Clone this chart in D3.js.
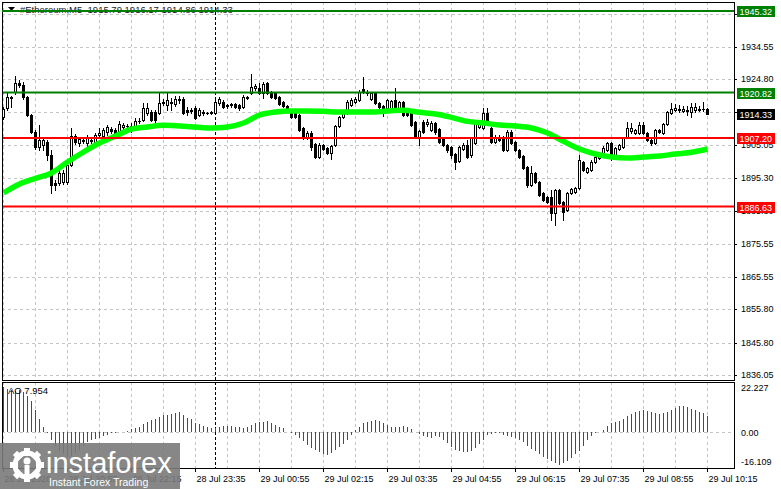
<!DOCTYPE html>
<html>
<head>
<meta charset="utf-8">
<script src="https://cdn.jsdelivr.net/npm/d3@7"></script>
<style>
  html, body { margin: 0; padding: 0; background: #fff; }
  svg { display: block; font-family: "Liberation Sans", Arial, sans-serif; }
</style>
</head>
<body>
<svg id="chart" width="781" height="489"></svg>
<script>
'use strict';

// #Ethereum M5 candles, 28 Jul 19:35 -> 29 Jul 10:15 (177 bars)
var opens = [
  1913.5, 1916.2, 1919.2, 1921.0, 1923.7, 1923.1, 1919.5, 1914.1, 1909.0, 1904.5,
  1905.1, 1906.0, 1902.1, 1893.7, 1893.7, 1894.0, 1894.0, 1899.1, 1907.8, 1905.7,
  1906.6, 1905.7, 1906.3, 1906.0, 1908.1, 1907.8, 1909.0, 1909.9, 1909.6, 1908.4,
  1910.5, 1910.8, 1910.8, 1910.8, 1912.3, 1912.6, 1914.7, 1915.0, 1915.0, 1914.7,
  1917.7, 1917.1, 1918.0, 1917.4, 1918.6, 1918.9, 1915.6, 1915.6, 1916.2, 1914.1,
  1915.0, 1914.7, 1915.0, 1914.7, 1917.7, 1918.0, 1917.1, 1917.4, 1917.4, 1917.1,
  1916.5, 1919.2, 1920.7, 1922.2, 1922.2, 1920.7, 1923.7, 1920.7, 1920.7, 1919.5,
  1918.0, 1916.8, 1915.0, 1914.7, 1914.1, 1910.2, 1907.5, 1908.7, 1905.4, 1901.5,
  1905.1, 1904.2, 1902.7, 1905.1, 1910.8, 1913.5, 1914.7, 1917.1, 1918.0, 1918.6,
  1921.9, 1921.0, 1918.9, 1920.7, 1917.7, 1916.8, 1916.2, 1916.2, 1918.6, 1916.2,
  1918.0, 1915.6, 1914.7, 1912.0, 1907.5, 1912.0, 1911.4, 1909.6, 1911.7, 1909.9,
  1906.9, 1905.1, 1904.5, 1902.4, 1900.3, 1903.9, 1905.1, 1902.1, 1905.7, 1910.5,
  1910.2, 1914.7, 1910.2, 1906.0, 1907.5, 1907.5, 1903.6, 1909.0, 1906.0, 1903.6,
  1901.8, 1898.5, 1893.1, 1896.7, 1894.0, 1890.7, 1889.5, 1889.5, 1884.7, 1891.6,
  1888.0, 1885.6, 1890.7, 1891.0, 1892.2, 1900.0, 1897.0, 1897.6, 1900.0, 1901.2,
  1902.7, 1903.6, 1905.7, 1902.1, 1903.9, 1904.5, 1907.5, 1909.3, 1908.7, 1908.7,
  1911.1, 1908.7, 1906.6, 1905.7, 1909.6, 1908.7, 1911.4, 1914.7, 1915.6, 1915.6,
  1915.3, 1915.6, 1915.0, 1915.6, 1915.9, 1915.9, 1915.79
];
var highs = [
  1916.5, 1920.7, 1919.8, 1925.8, 1924.6, 1924.0, 1919.8, 1914.4, 1909.6, 1911.1,
  1907.5, 1906.6, 1903.6, 1894.6, 1897.6, 1897.6, 1900.6, 1910.2, 1908.4, 1907.5,
  1907.2, 1908.1, 1907.2, 1908.7, 1910.2, 1910.2, 1911.1, 1910.5, 1910.2, 1912.3,
  1911.7, 1911.4, 1911.7, 1913.2, 1913.2, 1917.7, 1917.7, 1915.6, 1915.6, 1920.7,
  1918.9, 1920.7, 1919.2, 1919.8, 1919.8, 1919.5, 1916.5, 1916.2, 1916.8, 1916.2,
  1915.6, 1915.0, 1915.3, 1918.6, 1919.5, 1918.6, 1917.4, 1917.7, 1917.7, 1917.4,
  1920.1, 1919.8, 1926.4, 1923.4, 1923.7, 1924.0, 1924.0, 1921.3, 1921.0, 1919.8,
  1918.3, 1917.1, 1915.3, 1915.0, 1914.4, 1910.5, 1909.3, 1909.3, 1905.7, 1905.7,
  1905.4, 1904.5, 1905.1, 1911.1, 1913.8, 1915.0, 1918.6, 1919.2, 1919.5, 1921.6,
  1925.5, 1921.6, 1921.0, 1921.0, 1918.0, 1917.1, 1918.9, 1918.6, 1922.2, 1918.3,
  1918.3, 1915.9, 1915.0, 1912.3, 1909.6, 1912.6, 1912.9, 1912.3, 1912.0, 1910.2,
  1907.2, 1905.4, 1904.8, 1902.7, 1904.8, 1905.7, 1906.6, 1907.5, 1912.6, 1912.3,
  1916.2, 1916.2, 1910.5, 1908.1, 1908.1, 1907.8, 1909.6, 1909.6, 1906.3, 1903.9,
  1902.1, 1898.8, 1898.8, 1897.0, 1894.3, 1891.0, 1889.8, 1891.6, 1891.9, 1891.9,
  1888.3, 1891.0, 1892.2, 1892.5, 1902.1, 1900.3, 1898.5, 1900.6, 1902.1, 1902.7,
  1904.8, 1906.0, 1906.0, 1904.5, 1905.4, 1907.5, 1912.0, 1911.7, 1909.9, 1912.0,
  1912.0, 1909.0, 1906.9, 1909.9, 1909.9, 1911.7, 1915.3, 1917.7, 1917.4, 1917.1,
  1916.8, 1916.8, 1917.7, 1917.7, 1916.8, 1918.0, 1916.17
];
var lows = [
  1912.9, 1915.6, 1916.5, 1920.4, 1922.5, 1918.9, 1913.8, 1908.7, 1903.9, 1903.6,
  1903.6, 1900.6, 1890.7, 1891.6, 1893.1, 1893.4, 1893.4, 1898.8, 1905.4, 1904.8,
  1905.7, 1904.8, 1905.7, 1905.7, 1907.5, 1907.5, 1908.1, 1908.7, 1907.8, 1908.1,
  1909.6, 1910.2, 1909.0, 1910.5, 1911.7, 1912.3, 1914.1, 1912.3, 1912.0, 1914.4,
  1917.1, 1915.6, 1915.6, 1916.8, 1917.7, 1914.4, 1914.1, 1914.7, 1912.9, 1913.8,
  1914.1, 1914.4, 1914.4, 1914.4, 1917.1, 1916.2, 1916.2, 1916.5, 1916.2, 1915.6,
  1916.2, 1918.9, 1920.4, 1921.6, 1920.4, 1919.2, 1920.4, 1919.2, 1918.9, 1917.1,
  1916.5, 1915.9, 1913.2, 1913.2, 1909.3, 1906.9, 1906.9, 1903.6, 1901.2, 1901.2,
  1903.6, 1902.4, 1900.9, 1904.8, 1910.5, 1913.2, 1914.4, 1916.8, 1917.7, 1918.3,
  1920.7, 1920.1, 1918.6, 1917.4, 1916.2, 1913.8, 1915.9, 1915.9, 1916.2, 1915.9,
  1913.8, 1913.8, 1910.8, 1907.2, 1905.1, 1908.7, 1910.8, 1909.3, 1908.4, 1905.7,
  1904.8, 1903.0, 1901.2, 1897.9, 1900.0, 1903.6, 1901.2, 1901.5, 1905.4, 1910.2,
  1909.9, 1911.4, 1905.7, 1905.7, 1906.3, 1903.3, 1903.3, 1905.4, 1903.3, 1901.2,
  1897.9, 1892.5, 1892.8, 1893.7, 1889.8, 1888.3, 1887.7, 1882.6, 1881.1, 1887.4,
  1882.6, 1885.3, 1890.4, 1890.7, 1891.9, 1897.3, 1896.7, 1897.3, 1899.7, 1900.9,
  1902.4, 1903.3, 1900.6, 1901.8, 1903.6, 1904.2, 1907.2, 1908.7, 1908.4, 1908.4,
  1908.4, 1906.3, 1905.1, 1905.4, 1908.7, 1908.4, 1911.1, 1914.4, 1915.3, 1915.0,
  1915.0, 1914.1, 1913.5, 1915.0, 1915.3, 1915.3, 1914.86
];
var closes = [
  1915.9, 1919.5, 1919.5, 1923.7, 1923.1, 1919.5, 1914.1, 1909.0, 1904.5, 1906.6,
  1906.6, 1902.1, 1893.1, 1893.1, 1896.7, 1896.7, 1899.1, 1907.8, 1906.0, 1906.9,
  1906.3, 1907.5, 1906.6, 1908.1, 1908.7, 1909.6, 1910.5, 1909.3, 1908.1, 1911.4,
  1911.1, 1910.9, 1910.2, 1912.3, 1912.4, 1916.2, 1916.2, 1912.6, 1912.6, 1917.7,
  1918.0, 1918.6, 1917.7, 1918.9, 1918.9, 1914.7, 1915.0, 1915.3, 1913.2, 1915.6,
  1914.7, 1914.6, 1914.7, 1918.0, 1918.9, 1916.5, 1916.8, 1917.1, 1916.5, 1916.2,
  1919.5, 1919.5, 1922.5, 1922.8, 1920.7, 1923.4, 1920.7, 1919.5, 1919.2, 1917.4,
  1916.8, 1916.2, 1913.5, 1913.5, 1909.6, 1907.2, 1908.7, 1904.5, 1901.5, 1905.1,
  1903.9, 1902.7, 1904.8, 1910.8, 1913.5, 1914.7, 1918.0, 1918.6, 1918.9, 1921.0,
  1921.0, 1920.7, 1920.7, 1917.7, 1916.5, 1916.2, 1918.6, 1918.3, 1916.5, 1918.0,
  1914.1, 1914.1, 1911.1, 1907.5, 1909.3, 1909.0, 1912.0, 1911.7, 1909.0, 1906.0,
  1905.1, 1903.6, 1902.1, 1900.0, 1904.5, 1905.1, 1901.5, 1907.2, 1912.0, 1911.7,
  1914.7, 1911.7, 1906.0, 1907.5, 1906.6, 1903.6, 1909.0, 1905.7, 1903.6, 1901.5,
  1898.2, 1893.1, 1896.7, 1894.0, 1890.1, 1888.6, 1888.0, 1884.7, 1891.6, 1887.7,
  1885.0, 1890.7, 1891.9, 1892.2, 1900.6, 1897.6, 1898.2, 1900.0, 1901.5, 1902.1,
  1904.2, 1905.7, 1901.5, 1904.2, 1905.1, 1907.2, 1910.2, 1910.2, 1909.6, 1911.1,
  1908.7, 1906.6, 1905.7, 1909.6, 1909.0, 1911.4, 1915.0, 1915.9, 1916.2, 1915.9,
  1915.9, 1915.3, 1916.5, 1916.5, 1915.6, 1915.8, 1914.33
];

// moving average, every 4th bar
var maBars = [0, 4, 8, 12, 16, 20, 24, 28, 32, 36, 40, 44, 48, 52, 56, 60, 64, 68, 72, 76, 80, 84, 88,
  92, 96, 100, 104, 108, 112, 116, 120, 124, 128, 132, 136, 140, 144, 148, 152, 156, 160, 164, 168, 172, 176];
var maValues = [
  1890.7, 1893.4, 1895.1, 1896.7, 1900.0, 1903.0, 1905.7, 1907.8, 1909.9, 1910.5,
  1911.0, 1910.8, 1910.5, 1910.2, 1910.5, 1911.7, 1914.1, 1915.0, 1915.3, 1915.3,
  1915.2, 1915.0, 1915.0, 1915.0, 1915.3, 1915.5, 1914.9, 1914.4, 1913.4, 1912.2,
  1911.7, 1911.1, 1910.8, 1910.2, 1908.7, 1906.2, 1903.9, 1902.4, 1901.5, 1901.2,
  1901.5, 1901.8, 1902.4, 1902.9, 1903.9
];

// Awesome Oscillator
var aoValues = [
  22.227, 21.2, 20.7, 20.4, 20.8, 19.6, 18.0, 15.2, 10.7, 6.3,
  2.7, -0.5, -4.0, -6.6, -9.3, -10.9, -12.0, -11.7, -10.1, -8.5,
  -6.6, -5.0, -4.0, -3.4, -2.9, -2.1, -1.3, -0.5, -0.2, 0.05,
  0.2, 0.6, 1.4, 1.9, 2.7, 3.8, 5.1, 5.9, 6.3, 7.5,
  8.3, 8.7, 9.1, 9.5, 9.9, 8.3, 7.2, 6.3, 4.6, 4.0,
  3.0, 2.4, 2.2, 1.9, 2.7, 3.0, 3.1, 3.2, 2.7, 2.4,
  2.2, 2.7, 3.5, 4.3, 5.0, 5.1, 5.4, 4.3, 3.5, 2.4,
  1.9, 0.3, -0.2, -1.3, -2.9, -4.5, -6.1, -7.7, -8.8, -9.8,
  -10.9, -11.4, -10.1, -8.5, -7.2, -5.6, -3.7, -1.3, 1.1, 2.4,
  4.3, 5.1, 5.6, 5.9, 5.6, 4.3, 3.5, 2.7, 2.6, 2.4,
  3.0, 2.4, 1.4, 0.3, -0.8, -2.1, -2.4, -2.6, -2.1, -2.4,
  -3.7, -5.3, -7.2, -8.5, -9.3, -9.8, -9.9, -9.3, -7.7, -5.6,
  -3.7, -1.3, -0.8, -0.5, -0.2, -1.3, -2.1, -2.2, -2.9, -3.7,
  -5.0, -6.6, -8.2, -9.3, -10.9, -12.0, -13.0, -14.1, -14.9, -16.109,
  -14.9, -14.1, -12.5, -10.9, -9.3, -6.6, -4.0, -2.1, -0.5, 0.2,
  1.1, 3.0, 4.3, 5.1, 5.6, 6.7, 7.9, 9.1, 9.9, 10.4,
  11.1, 10.4, 9.9, 9.5, 9.1, 9.5, 9.9, 10.7, 12.0, 12.7,
  12.8, 12.3, 11.5, 10.7, 9.9, 9.5, 7.954
];

var priceTicks = [1944.30, 1934.55, 1924.80, 1915.05, 1905.05, 1895.30, 1885.30, 1875.55, 1865.55, 1855.80, 1845.80, 1836.05];
var aoTicks = [22.227, 0, -16.109];
var aoTickLabels = ['22.227', '0.00', '-16.109'];

var levelPrices = [1945.32, 1920.82, 1907.20, 1886.63];
var lastPrice = 1914.33;

var timeBars = [0, 16, 32, 48, 64, 80, 96, 112, 128, 144, 160, 176];
var timeLabels = ['28 Jul 2026', '28 Jul 20:55', '28 Jul 22:15', '28 Jul 23:35', '29 Jul 00:55', '29 Jul 02:15',
  '29 Jul 03:35', '29 Jul 04:55', '29 Jul 06:15', '29 Jul 07:35', '29 Jul 08:55', '29 Jul 10:15'];
var daySepBar = 53;

var header = '#Ethereum,M5  1915.79 1916.17 1914.86 1914.33';

// ---- layout ----
var plotL = 2, plotR = 734;
var mainT = 2, mainB = 380;
var aoT = 382, aoB = 468;
var levelColors = { '1945.32': '#008000', '1920.82': '#008000', '1907.20': '#ff0000', '1886.63': '#ff0000' };

var svg = d3.select('#chart');
var nBars = closes.length;

var x = d3.scaleLinear().domain([0, nBars - 1]).range([3.5, 707.5]);
var y = d3.scaleLinear().domain([1834.9, 1947.1]).range([379, 5]);
var yAo = d3.scaleLinear().domain([-16.109, 22.227]).range([465, 387]);

function px(v) { return Math.round(v) + 0.5; }

// grid
var grid = svg.append('g').attr('stroke', '#c4c4c4').attr('stroke-dasharray', '3,3');
grid.selectAll('line.h').data(priceTicks).enter().append('line')
  .attr('x1', plotL).attr('x2', plotR)
  .attr('y1', function(d){ return px(y(d)); }).attr('y2', function(d){ return px(y(d)); });

var vBars = d3.range(0, nBars, 8);
grid.selectAll('line.v').data(vBars).enter().append('line')
  .attr('x1', function(d){ return x(d); }).attr('x2', function(d){ return x(d); })
  .attr('y1', mainT).attr('y2', mainB);
grid.selectAll('line.va').data(vBars).enter().append('line')
  .attr('x1', function(d){ return x(d); }).attr('x2', function(d){ return x(d); })
  .attr('y1', aoT).attr('y2', aoB);
grid.append('line').attr('x1', plotL).attr('x2', plotR)
  .attr('y1', px(yAo(0))).attr('y2', px(yAo(0)));

// day separator
svg.append('line')
  .attr('x1', x(daySepBar)).attr('x2', x(daySepBar))
  .attr('y1', mainT).attr('y2', aoB)
  .attr('stroke', '#000').attr('stroke-dasharray', '3,2');

// candles
var idx = d3.range(nBars);
var candles = svg.append('g');
candles.selectAll('line').data(idx).enter().append('line')
  .attr('x1', function(i){ return x(i); }).attr('x2', function(i){ return x(i); })
  .attr('y1', function(i){ return Math.round(y(highs[i])); })
  .attr('y2', function(i){ return Math.round(y(lows[i])) + 1; })
  .attr('stroke', '#000');
candles.selectAll('rect').data(idx).enter().append('rect')
  .attr('x', function(i){ return x(i) - 1; })
  .attr('width', 2)
  .attr('y', function(i){ return px(y(Math.max(opens[i], closes[i]))); })
  .attr('height', function(i){
    return Math.max(0.01, Math.round(Math.abs(y(opens[i]) - y(closes[i]))));
  })
  .attr('fill', function(i){ return closes[i] >= opens[i] ? '#fff' : '#000'; })
  .attr('stroke', '#000');

// moving average
var maLine = d3.line()
  .x(function(d){ return x(d[0]); })
  .y(function(d){ return y(d[1]); })
  .curve(d3.curveMonotoneX);
svg.append('path')
  .datum(d3.zip(maBars, maValues))
  .attr('d', maLine)
  .attr('fill', 'none')
  .attr('stroke', '#00ff00')
  .attr('stroke-width', 5.5);

// horizontal levels
svg.selectAll('line.level').data(levelPrices).enter().append('line')
  .attr('x1', plotL).attr('x2', plotR)
  .attr('y1', function(d){ return y(d); }).attr('y2', function(d){ return y(d); })
  .attr('stroke', function(d){ return levelColors[d.toFixed(2)]; })
  .attr('stroke-width', 2);

// AO histogram
svg.append('g').selectAll('line').data(idx).enter().append('line')
  .attr('x1', function(i){ return x(i); }).attr('x2', function(i){ return x(i); })
  .attr('y1', Math.round(yAo(0)))
  .attr('y2', function(i){ return Math.round(yAo(aoValues[i])); })
  .attr('stroke', function(i){ return (i > 0 && aoValues[i] > aoValues[i - 1]) ? '#008000' : '#ff0000'; });

// frames
svg.append('rect').attr('x', plotL + 0.5).attr('y', mainT + 0.5)
  .attr('width', plotR - plotL).attr('height', mainB - mainT)
  .attr('fill', 'none').attr('stroke', '#000');
svg.append('rect').attr('x', plotL + 0.5).attr('y', aoT + 0.5)
  .attr('width', plotR - plotL).attr('height', aoB - aoT)
  .attr('fill', 'none').attr('stroke', '#000');

// header
svg.append('path').attr('d', 'M8,7 L15,7 L11.5,11 Z').attr('fill', '#000');
svg.append('text').attr('x', 20).attr('y', 13)
  .attr('font-size', 9.5).attr('fill', '#1a1a2a')
  .style('white-space', 'pre')
  .text(header);
// the 1945.32 line runs over the header
svg.append('line').attr('x1', plotL).attr('x2', plotR)
  .attr('y1', y(levelPrices[0])).attr('y2', y(levelPrices[0]))
  .attr('stroke', '#008000').attr('stroke-width', 2);

// right price axis
var axisG = svg.append('g').attr('font-size', 9).attr('fill', '#000');
axisG.selectAll('text').data(priceTicks).enter().append('text')
  .attr('x', 741).attr('y', function(d){ return y(d); }).attr('dy', '0.35em')
  .text(function(d){ return d.toFixed(2); });
axisG.selectAll('line').data(priceTicks).enter().append('line')
  .attr('x1', plotR).attr('x2', plotR + 3)
  .attr('y1', function(d){ return px(y(d)); }).attr('y2', function(d){ return px(y(d)); })
  .attr('stroke', '#000');

// price labels of the levels and last price
var boxes = levelPrices.map(function(p){ return { p: p, c: levelColors[p.toFixed(2)] }; });
boxes.push({ p: lastPrice, c: '#000' });
var boxG = svg.append('g');
boxG.selectAll('rect').data(boxes).enter().append('rect')
  .attr('x', 737).attr('width', 38)
  .attr('y', function(d){ return Math.round(y(d.p)) - 5; }).attr('height', 11)
  .attr('fill', function(d){ return d.c; });
boxG.selectAll('text').data(boxes).enter().append('text')
  .attr('x', 739.5).attr('y', function(d){ return Math.round(y(d.p)) + 0.5; }).attr('dy', '0.35em')
  .attr('font-size', 9).attr('fill', '#fff')
  .text(function(d){ return d.p.toFixed(2); });

// AO axis
svg.append('g').attr('font-size', 9).selectAll('text').data(aoTicks).enter().append('text')
  .attr('x', 741)
  .attr('y', function(d){ return Math.min(yAo(d), 461) + 1; }).attr('dy', '0.35em')
  .text(function(d, i){ return aoTickLabels[i]; });
svg.append('text').attr('x', 8).attr('y', 394).attr('font-size', 9.5)
  .text('AO 7.954');

// time axis
var tG = svg.append('g');
tG.selectAll('line').data(timeBars).enter().append('line')
  .attr('x1', function(d){ return x(d); }).attr('x2', function(d){ return x(d); })
  .attr('y1', aoB).attr('y2', aoB + 4)
  .attr('stroke', '#000');
tG.selectAll('text').data(timeBars).enter().append('text')
  .attr('x', function(d){ return x(d) + 1; }).attr('y', 482)
  .attr('font-size', 9)
  .text(function(d, i){ return timeLabels[i]; });

// instaforex watermark
var wm = svg.append('g');
wm.append('rect').attr('x', 0).attr('y', 443).attr('width', 180).attr('height', 46)
  .attr('fill', '#7a7a7a').attr('opacity', 0.9);
var gear = wm.append('g').attr('transform', 'translate(27,465)').attr('fill', '#fff');
d3.range(8).forEach(function(k){
  gear.append('rect').attr('x', -3).attr('y', -17).attr('width', 6).attr('height', 8)
    .attr('transform', 'rotate(' + (k * 45) + ')');
});
gear.append('circle').attr('r', 12).attr('fill', 'none').attr('stroke', '#fff').attr('stroke-width', 5);
gear.append('circle').attr('cy', -4).attr('r', 3.5);
gear.append('rect').attr('x', -2.5).attr('y', 0).attr('width', 5).attr('height', 13);
wm.append('text').attr('x', 46).attr('y', 473)
  .attr('font-size', 29).attr('fill', '#fff')
  .text('instaforex');
wm.append('text').attr('x', 49).attr('y', 486)
  .attr('font-size', 10.5).attr('fill', '#fff')
  .text('Instant Forex Trading');
</script>
</body>
</html>
